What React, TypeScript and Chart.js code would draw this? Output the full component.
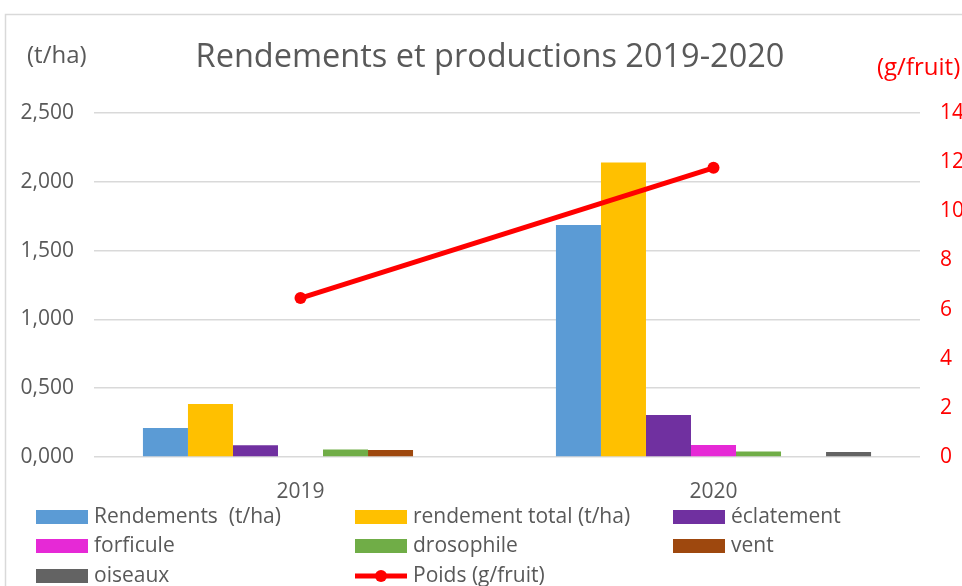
import { useEffect, useRef } from 'react';
import { Chart, registerables } from 'chart.js';
Chart.register(...registerables);

const categories = ['2019', '2020'];
const rendements = [0.21, 1.686];
const rendementTotal = [0.385, 2.14];
const eclatement = [0.085, 0.305];
const forficule = [0, 0.087];
const drosophile = [0.055, 0.04];
const vent = [0.05, 0];
const oiseaux = [0, 0.036];
const poids = [6.47, 11.77];

const seriesLabels = ['Rendements  (t/ha)', 'rendement total (t/ha)', 'éclatement', 'forficule', 'drosophile', 'vent', 'oiseaux', 'Poids (g/fruit)'];
const seriesColors = ['#5b9bd5', '#ffc000', '#7030a0', '#e629d6', '#70ad47', '#9e480e', '#636363', '#ff0000'];
const titleText = 'Rendements et productions 2019-2020';
const leftUnit = '(t/ha)';
const rightUnit = '(g/fruit)';

const FONT = '"Open Sans", sans-serif';
const GREY = '#595959';

export default function App() {
  const ref = useRef<HTMLCanvasElement>(null);
  useEffect(() => {
    if (!ref.current) return;
    const barValues = [rendements, rendementTotal, eclatement, forficule, drosophile, vent, oiseaux];
    const datasets: any[] = barValues.map((d, i) => ({
      type: 'bar',
      label: seriesLabels[i],
      data: d,
      backgroundColor: seriesColors[i],
      yAxisID: 'y',
      order: 1,
      barPercentage: 1,
      categoryPercentage: 0.763,
    }));
    datasets.push({
      type: 'line',
      label: seriesLabels[7],
      data: poids,
      borderColor: seriesColors[7],
      backgroundColor: seriesColors[7],
      borderWidth: 5,
      pointRadius: 6,
      pointBackgroundColor: seriesColors[7],
      pointBorderWidth: 0,
      yAxisID: 'y1',
      order: 0,
    });

    const deco = {
      id: 'deco',
      beforeDraw(chart: any) {
        const ctx = chart.ctx;
        ctx.save();
        ctx.fillStyle = '#fff';
        ctx.fillRect(0, 0, chart.width, chart.height);
        ctx.strokeStyle = '#d9d9d9';
        ctx.lineWidth = 1.5;
        ctx.strokeRect(5.5, 14.5, 1200, 1200);
        ctx.restore();
      },
      afterDraw(chart: any) {
        const ctx = chart.ctx;
        ctx.save();
        ctx.textBaseline = 'middle';
        ctx.textAlign = 'center';
        ctx.fillStyle = GREY;
        ctx.font = `32.5px ${FONT}`;
        ctx.fillText(titleText, 490, 58);
        ctx.font = `24px ${FONT}`;
        ctx.textAlign = 'left';
        ctx.fillText(leftUnit, 27, 56);
        ctx.fillStyle = '#ff0000';
        ctx.fillText(rightUnit, 877, 68);
        // legend
        const cols = [36, 355, 673];
        const rows = [517, 546, 576];
        chart.data.datasets.forEach((ds: any, i: number) => {
          const x = cols[i % 3];
          const y = rows[Math.floor(i / 3)];
          if (ds.type === 'line') {
            ctx.strokeStyle = ds.borderColor;
            ctx.lineWidth = 5;
            ctx.beginPath();
            ctx.moveTo(x, y);
            ctx.lineTo(x + 52, y);
            ctx.stroke();
            ctx.fillStyle = ds.borderColor;
            ctx.beginPath();
            ctx.arc(x + 26, y, 6, 0, Math.PI * 2);
            ctx.fill();
          } else {
            ctx.fillStyle = ds.backgroundColor;
            ctx.fillRect(x, y - 7, 52, 14);
          }
          ctx.fillStyle = GREY;
          ctx.font = `21px ${FONT}`;
          ctx.textAlign = 'left';
          ctx.fillText(ds.label, x + 58, y);
        });
        ctx.restore();
      },
    };

    const chart = new Chart(ref.current, {
      type: 'bar',
      data: { labels: categories, datasets },
      plugins: [deco],
      options: {
        animation: false,
        responsive: false,
        maintainAspectRatio: false,
        layout: { padding: { top: 113, left: 0, right: 0, bottom: 0 } },
        plugins: { legend: { display: false }, title: { display: false }, tooltip: { enabled: false } },
        scales: {
          x: {
            grid: { display: false },
            border: { display: false },
            ticks: { color: GREY, font: { family: FONT, size: 21 }, padding: 14 },
            afterFit: (s: any) => { s.height = 129; },
          },
          y: {
            position: 'left',
            min: 0,
            max: 2.5,
            grid: { color: '#d9d9d9', lineWidth: 1.5, drawTicks: false },
            border: { display: false },
            ticks: {
              stepSize: 0.5,
              color: GREY,
              font: { family: FONT, size: 21 },
              padding: 20,
              callback: (v: any) => Number(v).toFixed(3).replace('.', ','),
            },
            afterFit: (s: any) => { s.width = 94; },
          },
          y1: {
            position: 'right',
            min: 0,
            max: 14,
            grid: { display: false, drawTicks: false },
            border: { display: false },
            ticks: { stepSize: 2, color: '#ff0000', font: { family: FONT, size: 21 }, padding: 20 },
            afterFit: (s: any) => { s.width = 42; },
          },
        },
      } as any,
    });
    return () => chart.destroy();
  }, []);
  return (
    <div style={{ position: 'fixed', left: 0, top: 0, width: 962, height: 586, overflow: 'hidden', background: '#fff' }}>
      <canvas ref={ref} width={962} height={586} style={{ width: 962, height: 586, display: 'block' }} />
    </div>
  );
}
